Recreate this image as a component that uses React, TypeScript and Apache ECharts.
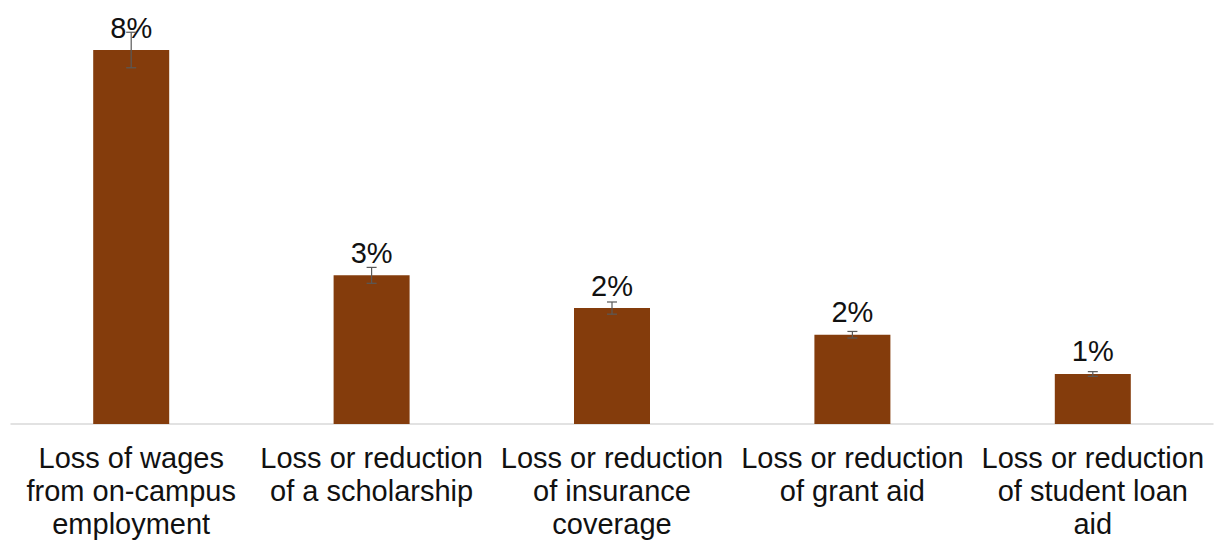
import React, { useEffect, useRef } from "react";
import * as echarts from "echarts";

const categories = [
  "Loss of wages\nfrom on-campus\nemployment",
  "Loss or reduction\nof a scholarship",
  "Loss or reduction\nof insurance\ncoverage",
  "Loss or reduction\nof grant aid",
  "Loss or reduction\nof student loan\naid",
];
const values = [8.0, 3.18, 2.48, 1.91, 1.07];
const errors = [0.38, 0.17, 0.13, 0.07, 0.05];
const labels = ["8%", "3%", "2%", "2%", "1%"];

export default function App() {
  const ref = useRef<HTMLDivElement>(null);
  useEffect(() => {
    document.body.style.margin = "0";
    if (!ref.current) return;
    const chart = echarts.init(ref.current, null, { renderer: "svg" });
    const font = "'Liberation Sans', Arial, sans-serif";
    chart.setOption({
      animation: false,
      backgroundColor: "#ffffff",
      grid: {
        left: 11,
        right: 2,
        top: 0,
        bottom: 120,
        containLabel: false,
        outerBoundsMode: "none",
      },
      xAxis: {
        type: "category",
        data: categories,
        axisLine: { show: true, lineStyle: { color: "#d9d9d9", width: 1.5 } },
        axisTick: { show: false },
        axisLabel: {
          interval: 0,
          margin: 17,
          fontSize: 29,
          lineHeight: 33,
          color: "#111111",
          fontFamily: font,
          align: "center",
        },
      },
      yAxis: {
        type: "value",
        min: 0,
        max: 9.07,
        show: false,
        splitLine: { show: false },
      },
      series: [
        {
          type: "bar",
          data: values,
          barWidth: 76,
          itemStyle: { color: "#843c0c" },
          label: {
            show: true,
            position: "top",
            distance: 8,
            fontSize: 29,
            color: "#111111",
            fontFamily: font,
            formatter: (p: any) => labels[p.dataIndex],
          },
          z: 2,
        },
        {
          type: "custom",
          z: 3,
          data: values.map((v, i) => [i, v - errors[i], v + errors[i]]),
          renderItem: (params: any, api: any) => {
            const x = api.value(0);
            const lo = api.coord([x, api.value(1)]);
            const hi = api.coord([x, api.value(2)]);
            const cap = 5;
            const style = { stroke: "#595959", lineWidth: 1.2 };
            return {
              type: "group",
              children: [
                { type: "line", shape: { x1: lo[0], y1: lo[1], x2: hi[0], y2: hi[1] }, style },
                { type: "line", shape: { x1: hi[0] - cap, y1: hi[1], x2: hi[0] + cap, y2: hi[1] }, style },
                { type: "line", shape: { x1: lo[0] - cap, y1: lo[1], x2: lo[0] + cap, y2: lo[1] }, style },
              ],
            };
          },
        },
      ],
    });
    return () => chart.dispose();
  }, []);
  return <div ref={ref} style={{ width: 1215, height: 544 }} />;
}
